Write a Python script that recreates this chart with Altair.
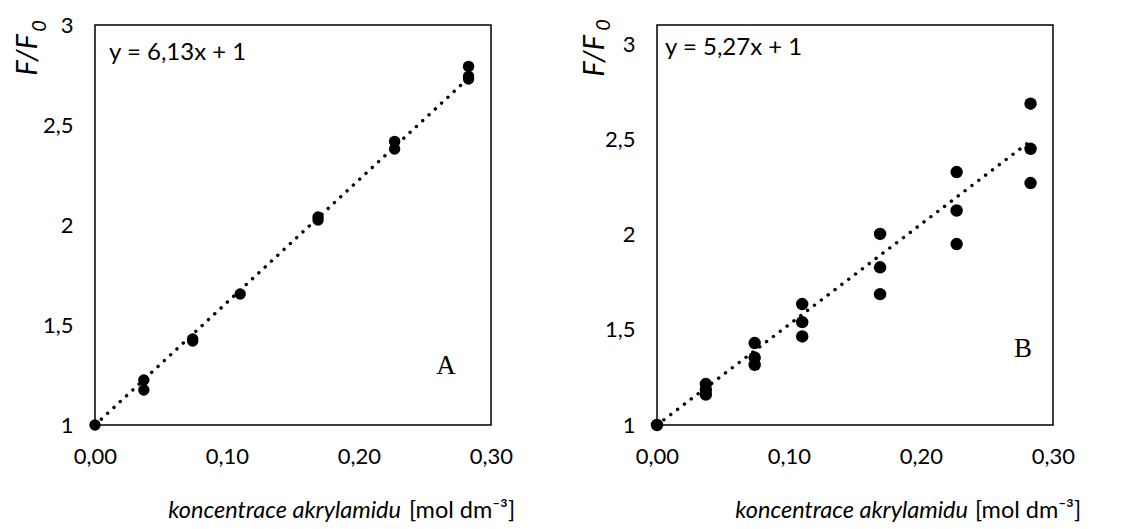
import altair as alt
import pandas as pd

# ---- data ----
a_x = [0.0, 0.037, 0.037, 0.074, 0.074, 0.110, 0.169, 0.169, 0.227, 0.227, 0.283, 0.283, 0.283]
a_y = [1.0, 1.225, 1.175, 1.43, 1.42, 1.655, 2.04, 2.025, 2.418, 2.38, 2.793, 2.743, 2.73]

b_x = [0.0, 0.037, 0.037, 0.037, 0.074, 0.074, 0.074, 0.110, 0.110, 0.110,
       0.169, 0.169, 0.169, 0.227, 0.227, 0.227, 0.283, 0.283, 0.283]
b_y = [1.0, 1.215, 1.185, 1.16, 1.43, 1.354, 1.316, 1.635, 1.54, 1.465,
       2.003, 1.828, 1.687, 2.328, 2.126, 1.95, 2.687, 2.45, 2.27]

fit_slopes = [6.13, 5.27]
fit_intercept = 1.0
fit_x = [0.0, 0.283]

x_ticks = [0.0, 0.1, 0.2, 0.3]
y_ticks = [1.0, 1.5, 2.0, 2.5, 3.0]

eq_texts = ["y = 6,13x + 1", "y = 5,27x + 1"]
panel_letters = ["A", "B"]
x_title_italic = "koncentrace akrylamidu"
x_title_unit = "[mol dm\u207b\u00b3]"
y_title_main = "F/F"
y_title_sub = "0"

FONT = "Lato"


def panel(xs, ys, slope, ydom, width, pt_size, eq_text, eq_xy, letter, letter_xy,
          yt_main_xy, yt_sub_xy, xt_xy):
    pts = pd.DataFrame({"x": xs, "y": ys})
    line = pd.DataFrame({"x": fit_x, "y": [fit_intercept + slope * v for v in fit_x]})

    xenc = alt.X("x:Q",
                 scale=alt.Scale(domain=[0, 0.3], nice=False, zero=False),
                 axis=alt.Axis(values=x_ticks, title=None, labelFlush=False,
                               labelExpr="replace(format(datum.value, '.2f'), '.', ',')",
                               labelPadding=21))
    yenc = alt.Y("y:Q",
                 scale=alt.Scale(domain=ydom, nice=False, zero=False),
                 axis=alt.Axis(values=y_ticks, title=None,
                               labelExpr="replace(format(datum.value, '~g'), '.', ',')",
                               labelPadding=22))

    line_layer = alt.Chart(line).mark_line(
        color="black", strokeWidth=3.4, strokeDash=[0.1, 8.5], strokeCap="round"
    ).encode(x=xenc, y=yenc)

    point_layer = alt.Chart(pts).mark_circle(
        size=pt_size, color="black", opacity=1
    ).encode(x=xenc, y=yenc)

    one = pd.DataFrame({"t": [eq_text], "l": [letter],
                        "a": [x_title_italic], "u": [x_title_unit],
                        "f": [y_title_main], "s": [y_title_sub]})
    eq_layer = alt.Chart(one).mark_text(
        align="left", baseline="middle", font=FONT, fontSize=24, color="black"
    ).encode(text="t:N", x=alt.value(eq_xy[0]), y=alt.value(eq_xy[1]))

    letter_layer = alt.Chart(one).mark_text(
        align="center", baseline="middle", font="Liberation Serif", fontSize=27,
        color="black"
    ).encode(text="l:N", x=alt.value(letter_xy[0]), y=alt.value(letter_xy[1]))

    xt1 = alt.Chart(one).mark_text(
        align="right", baseline="middle", font=FONT, fontSize=23.5,
        fontStyle="italic", color="black"
    ).encode(text="a:N", x=alt.value(xt_xy[0]), y=alt.value(xt_xy[2]))

    xt2 = alt.Chart(one).mark_text(
        align="left", baseline="middle", font=FONT, fontSize=23.5, color="black"
    ).encode(text="u:N", x=alt.value(xt_xy[1]), y=alt.value(xt_xy[2]))

    yt1 = alt.Chart(one).mark_text(
        align="center", baseline="middle", font=FONT, fontSize=29, angle=270,
        fontStyle="italic", color="black"
    ).encode(text="f:N", x=alt.value(yt_main_xy[0]), y=alt.value(yt_main_xy[1]))

    yt2 = alt.Chart(one).mark_text(
        align="center", baseline="middle", font=FONT, fontSize=20, angle=270,
        fontStyle="italic", color="black"
    ).encode(text="s:N", x=alt.value(yt_sub_xy[0]), y=alt.value(yt_sub_xy[1]))

    return alt.layer(line_layer, point_layer, eq_layer, letter_layer,
                     xt1, xt2, yt1, yt2).properties(width=width, height=400)


left = panel(a_x, a_y, fit_slopes[0], [1, 3], 396, 130, eq_texts[0], (14, 28),
             panel_letters[0], (351, 341), (-67, 30), (-55, 1), (306, 314, 486))
right = panel(b_x, b_y, fit_slopes[1], [1, 3.1], 396, 155, eq_texts[1], (8, 23),
              panel_letters[1], (366, 324), (-62, 31), (-53, 0), (311, 318, 486))

chart = alt.hconcat(left, right, spacing=64).properties(
    padding={"left": 5, "top": 5, "right": 5, "bottom": 5}
).configure_view(
    stroke="black", strokeWidth=1.5
).configure_axis(
    domain=False, ticks=False, tickSize=0, grid=False,
    labelFont=FONT, labelFontSize=22, labelColor="black"
)

chart.save("out.html", embed_options={"renderer": "svg", "actions": False})
